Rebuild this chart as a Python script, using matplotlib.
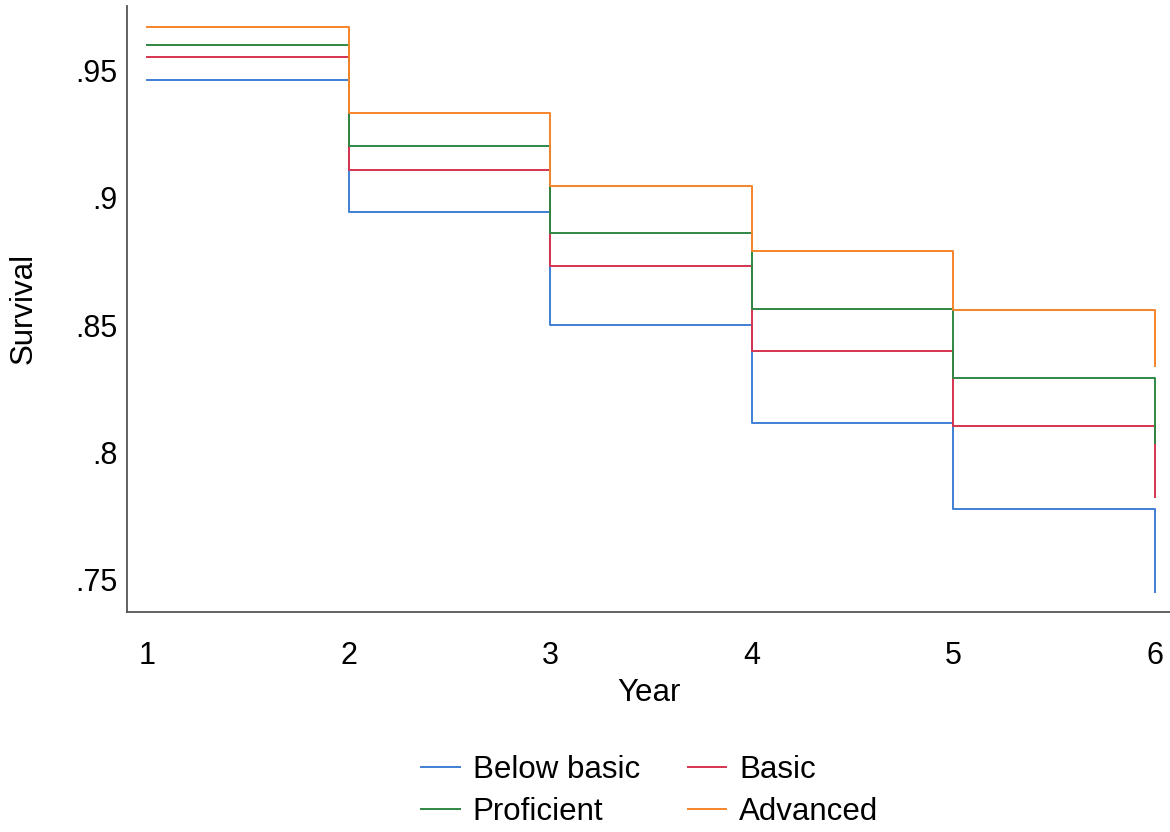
import matplotlib
matplotlib.use("Agg")
import matplotlib.pyplot as plt

plt.rcParams['font.family'] = ['Liberation Sans', 'DejaVu Sans']

years = [1, 2, 3, 4, 5, 6]
below_basic = [0.9464, 0.8943, 0.8501, 0.8115, 0.7776, 0.7452]
basic = [0.9552, 0.9109, 0.8731, 0.8399, 0.8103, 0.7824]
proficient = [0.9603, 0.9204, 0.8863, 0.8562, 0.8294, 0.8039]
advanced = [0.9671, 0.9335, 0.9047, 0.8790, 0.8560, 0.8338]

labels = ['Below basic', 'Basic', 'Proficient', 'Advanced']
colors = ['#3F80D3', '#D4344F', '#2F8743', '#F5842C']
yticks = [0.75, 0.8, 0.85, 0.9, 0.95]
ytick_labels = ['.75', '.8', '.85', '.9', '.95']

fig = plt.figure(figsize=(11.7, 8.32), dpi=100)
ax = fig.add_axes([0.1085, 0.2644, 0.8915, 0.7286])

series = [below_basic, basic, proficient, advanced]
lines = []
for vals, lab, col in zip(series, labels, colors):
    ln, = ax.step(years, vals, where='post', color=col, lw=1.4, label=lab)
    lines.append(ln)

ax.set_xlim(0.9, 6.075)
ax.set_ylim(0.7373, 0.9755)
ax.set_xticks(years)
ax.set_yticks(yticks)
ax.set_yticklabels(ytick_labels)
ax.tick_params(axis='x', length=0, pad=21, labelsize=22)
ax.tick_params(axis='y', length=0, pad=7, labelsize=22)
for s in ['top', 'right']:
    ax.spines[s].set_visible(False)
for s in ['left', 'bottom']:
    ax.spines[s].set_color('#555555')
    ax.spines[s].set_linewidth(1.3)

ax.set_xlabel('Year', fontsize=22.5, labelpad=5)
ax.set_ylabel('Survival', fontsize=22.5, labelpad=26)

# row-major order: Below basic, Basic / Proficient, Advanced
order = [0, 2, 1, 3]
fig.legend([lines[i] for i in order], [labels[i] for i in order], ncol=2,
           loc='upper center', bbox_to_anchor=(0.5556, 0.126),
           frameon=False, fontsize=22.5, handlelength=1.22, handletextpad=0.42,
           columnspacing=1.54, labelspacing=0.37)

fig.savefig('out.png', dpi=100, facecolor='white')
